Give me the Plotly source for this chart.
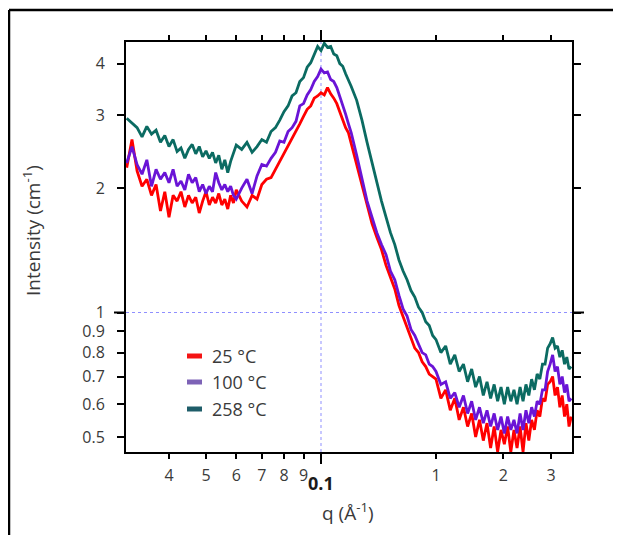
import math
import plotly.graph_objects as go

# ---------------- data ----------------
q = [0.031, 0.032, 0.033, 0.034, 0.035, 0.036, 0.037, 0.038, 0.039, 0.040,
     0.041, 0.042, 0.043, 0.044, 0.045, 0.046, 0.047, 0.048, 0.049, 0.050,
     0.051, 0.052, 0.053, 0.054, 0.055, 0.056, 0.057, 0.058, 0.059,
     0.060, 0.062, 0.064, 0.066, 0.068, 0.070, 0.072, 0.074, 0.076, 0.078,
     0.080, 0.082, 0.084, 0.086, 0.088, 0.090, 0.092, 0.094, 0.096, 0.098,
     0.100, 0.102, 0.104, 0.106, 0.108, 0.110, 0.112, 0.114, 0.116, 0.118,
     0.120, 0.124, 0.128, 0.132, 0.136, 0.140, 0.144, 0.148, 0.152, 0.156,
     0.160, 0.164, 0.168, 0.172, 0.176, 0.180, 0.184, 0.188, 0.192, 0.196,
     0.200, 0.206, 0.212, 0.218, 0.224, 0.230, 0.236, 0.242, 0.248, 0.254,
     0.260, 0.266, 0.272, 0.278, 0.284, 0.290, 0.296, 0.302, 0.308, 0.314,
     0.320, 0.326, 0.332, 0.338, 0.344, 0.350, 0.356, 0.362, 0.368, 0.374,
     0.380, 0.386, 0.392, 0.398, 0.404, 0.410, 0.416, 0.422, 0.428, 0.434,
     0.440, 0.446, 0.452]

i_25C = [2.24, 2.62, 2.20, 2.02, 2.10, 1.92, 2.04, 1.76, 1.96, 1.70,
         1.92, 1.86, 1.96, 1.80, 1.92, 1.84, 1.90, 1.74, 1.86, 1.96,
         1.82, 1.90, 1.84, 1.94, 1.82, 1.88, 1.78, 1.92, 1.84,
         1.98, 1.86, 1.80, 1.92, 1.88, 2.04, 2.10, 2.12, 2.22, 2.32,
         2.42, 2.52, 2.62, 2.74, 2.86, 2.98, 3.10, 3.16, 3.30, 3.34,
         3.40, 3.36, 3.50, 3.38, 3.30, 3.20, 3.06, 2.94, 2.80, 2.72,
         2.56, 2.30, 2.04, 1.84, 1.64, 1.52, 1.42, 1.30, 1.22, 1.14,
         1.04, 0.98, 0.92, 0.87, 0.82, 0.80, 0.76, 0.74, 0.71, 0.70,
         0.69, 0.62, 0.65, 0.58, 0.62, 0.55, 0.59, 0.53, 0.57, 0.50,
         0.55, 0.49, 0.54, 0.47, 0.53, 0.46, 0.52, 0.48, 0.53, 0.46,
         0.52, 0.47, 0.53, 0.46, 0.54, 0.49, 0.55, 0.52, 0.58, 0.56,
         0.62, 0.61, 0.67, 0.68, 0.70, 0.63, 0.66, 0.59, 0.63, 0.56,
         0.60, 0.53, 0.56]

i_100C = [2.30, 2.52, 2.28, 2.16, 2.34, 2.02, 2.22, 2.10, 2.18, 2.06,
          2.22, 2.02, 2.08, 1.98, 2.16, 2.06, 2.12, 1.96, 2.04, 1.94,
          2.02, 1.96, 2.18, 2.06, 1.98, 2.04, 1.96, 2.02, 1.92,
          1.88, 2.00, 2.10, 1.94, 2.14, 2.28, 2.26, 2.36, 2.44, 2.60,
          2.58, 2.74, 2.80, 2.90, 3.16, 3.20, 3.36, 3.46, 3.62, 3.72,
          3.88, 3.80, 3.82, 3.66, 3.62, 3.50, 3.34, 3.18, 3.02, 2.86,
          2.72, 2.40, 2.12, 1.86, 1.70, 1.56, 1.46, 1.38, 1.26, 1.20,
          1.10, 1.02, 0.98, 0.91, 0.88, 0.84, 0.80, 0.79, 0.75, 0.74,
          0.72, 0.67, 0.68, 0.62, 0.64, 0.59, 0.63, 0.57, 0.61, 0.55,
          0.59, 0.54, 0.58, 0.53, 0.57, 0.52, 0.56, 0.51, 0.56, 0.52,
          0.55, 0.51, 0.57, 0.52, 0.58, 0.54, 0.59, 0.56, 0.61, 0.60,
          0.65, 0.65, 0.72, 0.75, 0.79, 0.72, 0.74, 0.67, 0.70, 0.64,
          0.67, 0.61, 0.62]

i_258C = [2.95, 2.88, 2.80, 2.66, 2.82, 2.70, 2.76, 2.58, 2.68, 2.52,
          2.62, 2.45, 2.50, 2.36, 2.48, 2.55, 2.42, 2.52, 2.38, 2.46,
          2.36, 2.44, 2.30, 2.40, 2.22, 2.34, 2.18, 2.32, 2.44,
          2.54, 2.48, 2.58, 2.44, 2.52, 2.62, 2.58, 2.74, 2.80, 2.92,
          3.06, 3.16, 3.34, 3.40, 3.62, 3.70, 3.92, 4.02, 4.22, 4.40,
          4.30, 4.48, 4.38, 4.40, 4.22, 4.18, 4.00, 3.94, 3.78, 3.66,
          3.52, 3.26, 2.92, 2.58, 2.30, 2.06, 1.86, 1.70, 1.56, 1.46,
          1.34, 1.26, 1.20, 1.13, 1.09, 1.03, 1.00, 0.95, 0.93, 0.88,
          0.86, 0.80, 0.83, 0.75, 0.79, 0.72, 0.75, 0.68, 0.73, 0.66,
          0.70, 0.63, 0.68, 0.62, 0.67, 0.61, 0.66, 0.60, 0.66, 0.61,
          0.65, 0.60, 0.66, 0.61, 0.67, 0.63, 0.69, 0.65, 0.71, 0.69,
          0.75, 0.75, 0.82, 0.84, 0.87, 0.82, 0.83, 0.78, 0.81, 0.75,
          0.78, 0.73, 0.74]

series_names = ["25 °C", "100 °C", "258 °C"]
series_values = [i_25C, i_100C, i_258C]
series_colors = ["#ff0000", "#6a14d6", "#0b6b62"]
legend_colors = ["#f41414", "#7d62b6", "#1e5d69"]

x_tickvals = [0.04, 0.05, 0.06, 0.07, 0.08, 0.09, 0.2, 0.3, 0.4]
x_ticktext = ["4", "5", "6", "7", "8", "9", "1", "2", "3"]
y_tickvals = [0.5, 0.6, 0.7, 0.8, 0.9, 1, 2, 3, 4]
y_ticktext = ["0.5", "0.6", "0.7", "0.8", "0.9", "1", "2", "3", "4"]

# ---------------- layout geometry ----------------
OFF = 8                      # page body margin of the browser
W, H = 621 - OFF, 535 - OFF
L, R, T, B = 118, 49, 34, 83
PW, PH = W - L - R, H - T - B
XR = [-1.5105, -0.3429]
YR = [-0.3374, 0.6543]


def px(xwin):
    return (xwin - OFF - L) / PW


def py(ywin):
    return (H - B - (ywin - OFF)) / PH


def xlog_paper(v):
    return (math.log10(v) - XR[0]) / (XR[1] - XR[0])


def ylog_paper(v):
    return (math.log10(v) - YR[0]) / (YR[1] - YR[0])


FONT = "'Open Sans', Lato, sans-serif"
TXT = "#3a3a3a"

fig = go.Figure()
for name, vals, col in zip(series_names, series_values, series_colors):
    fig.add_trace(go.Scatter(x=q, y=vals, mode="lines", name=name,
                             line=dict(color=col, width=2.8), showlegend=False))

axis_common = dict(type="log", showline=True, linecolor="black", linewidth=2,
                   mirror="ticks", ticks="outside", tickcolor="black",
                   tickwidth=2, showgrid=False, zeroline=False,
                   tickfont=dict(family=FONT, size=16, color=TXT))

fig.update_xaxes(range=XR, tickvals=x_tickvals, ticktext=x_ticktext,
                 ticklen=5, ticklabelstandoff=3, **axis_common)
fig.update_yaxes(range=YR, tickvals=y_tickvals, ticktext=y_ticktext,
                 ticklen=7, ticklabelstandoff=9, **axis_common)

shapes = []
xv = xlog_paper(0.1)
yv = ylog_paper(1)
dot = dict(color="#8f8fff", width=1, dash="dot")
shapes.append(dict(type="line", xref="paper", yref="paper", x0=xv, x1=xv,
                   y0=0, y1=1, line=dot, layer="below"))
shapes.append(dict(type="line", xref="paper", yref="paper", x0=0, x1=1,
                   y0=yv, y1=yv, line=dot, layer="below"))
# longer ticks at q = 0.1 and I = 1
tl = 12
blk = dict(color="black", width=2)
shapes.append(dict(type="line", xref="paper", yref="paper", x0=xv, x1=xv,
                   y0=0, y1=-tl / PH, line=blk))
shapes.append(dict(type="line", xref="paper", yref="paper", x0=xv, x1=xv,
                   y0=1, y1=1 + tl / PH, line=blk))
shapes.append(dict(type="line", xref="paper", yref="paper", x0=0, x1=-tl / PW,
                   y0=yv, y1=yv, line=blk))
shapes.append(dict(type="line", xref="paper", yref="paper", x0=1, x1=1 + tl / PW,
                   y0=yv, y1=yv, line=blk))
# outer frame (left and top edges)
frame = dict(color="black", width=2.5)
shapes.append(dict(type="line", xref="paper", yref="paper", x0=px(9), x1=px(9),
                   y0=py(10), y1=py(540), line=frame))
shapes.append(dict(type="line", xref="paper", yref="paper", x0=px(9), x1=px(630),
                   y0=py(10), y1=py(10), line=frame))

annotations = []
rows = [356, 382, 409]
for name, col, yr in zip(series_names, legend_colors, rows):
    shapes.append(dict(type="rect", xref="paper", yref="paper",
                       x0=px(187), x1=px(202), y0=py(yr + 2.5), y1=py(yr - 2.5),
                       fillcolor=col, line=dict(width=0)))
    annotations.append(dict(x=px(210), y=py(yr), xref="paper", yref="paper",
                            text=name, showarrow=False, xanchor="left",
                            yanchor="middle",
                            font=dict(family=FONT, size=18, color=TXT)))

annotations.append(dict(x=xv, y=py(483), xref="paper", yref="paper",
                        text="<b>0.1</b>", showarrow=False, xanchor="center",
                        yanchor="middle",
                        font=dict(family=FONT, size=18, color="#1a1a1a")))
annotations.append(dict(x=px(348), y=py(512), xref="paper", yref="paper",
                        text="q (Å<sup>-1</sup>)", showarrow=False,
                        xanchor="center", yanchor="middle",
                        font=dict(family=FONT, size=19, color=TXT)))
annotations.append(dict(x=px(32), y=py(231), xref="paper", yref="paper",
                        text="Intensity (cm<sup>-1</sup>)", showarrow=False,
                        textangle=-90, xanchor="center", yanchor="middle",
                        font=dict(family=FONT, size=19, color=TXT)))

fig.update_layout(width=W, height=H, margin=dict(l=L, r=R, t=T, b=B),
                  paper_bgcolor="white", plot_bgcolor="white",
                  shapes=shapes, annotations=annotations, showlegend=False)

fig.write_html("out.html")
